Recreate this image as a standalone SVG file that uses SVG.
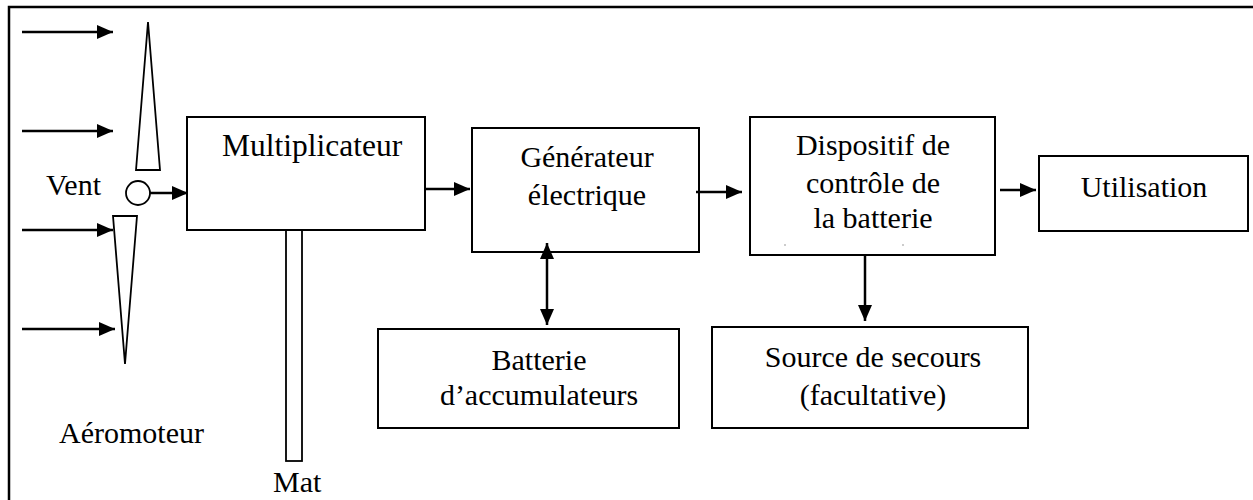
<svg xmlns="http://www.w3.org/2000/svg" width="1253" height="500" viewBox="0 0 1253 500">
<style>
.box{fill:#fff;stroke:#000;stroke-width:2}
.shape{fill:#fff;stroke:#000;stroke-width:1.8}
.ar{stroke:#000;stroke-width:2.5;fill:none}
</style>
<defs>
<marker id="ah" markerUnits="userSpaceOnUse" markerWidth="16" markerHeight="14" refX="16" refY="7" orient="auto">
<path d="M0,0 L16,7 L0,14 Z" fill="#000"/>
</marker>
<marker id="ahs" markerUnits="userSpaceOnUse" markerWidth="16" markerHeight="14" refX="16" refY="7" orient="auto-start-reverse">
<path d="M0,0 L16,7 L0,14 Z" fill="#000"/>
</marker>
</defs>
<rect width="1253" height="500" fill="#fff"/>
<path d="M9,500 V7 H1253" fill="none" stroke="#000" stroke-width="2.5"/>

<g id="aeromoteur">
<polygon class="shape" points="148,22 136,170 160,170"/>
<polygon class="shape" points="113,216 137,216 125,364"/>
<circle class="shape" cx="138" cy="193" r="12"/>
<text font-family="Tinos, Times New Roman, Liberation Serif, serif" font-size="30" x="46" y="195">Vent</text>
<text font-family="Tinos, Times New Roman, Liberation Serif, serif" font-size="30" x="59" y="443">Aéromoteur</text>
</g>

<g id="mat">
<rect class="shape" x="286" y="230" width="16" height="231"/>
<text font-family="Tinos, Times New Roman, Liberation Serif, serif" font-size="30" x="273" y="492">Mat</text>
</g>

<g id="multiplicateur">
<rect class="box" x="187" y="117" width="238" height="113"/>
<text font-family="Tinos, Times New Roman, Liberation Serif, serif" font-size="31.5" x="222" y="156">Multiplicateur</text>
</g>

<g id="generateur">
<rect class="box" x="472" y="128" width="227" height="124"/>
<text font-family="Tinos, Times New Roman, Liberation Serif, serif" font-size="30" text-anchor="middle" x="587" y="167">Générateur</text>
<text font-family="Tinos, Times New Roman, Liberation Serif, serif" font-size="30" text-anchor="middle" x="587" y="205">électrique</text>
</g>

<g id="dispositif">
<rect class="box" x="750" y="117" width="245" height="138"/>
<text font-family="Tinos, Times New Roman, Liberation Serif, serif" font-size="30" text-anchor="middle" x="873" y="155">Dispositif de</text>
<text font-family="Tinos, Times New Roman, Liberation Serif, serif" font-size="30" text-anchor="middle" x="873" y="193">contrôle de</text>
<text font-family="Tinos, Times New Roman, Liberation Serif, serif" font-size="30" text-anchor="middle" x="873" y="228">la batterie</text>
<line x1="784" y1="245" x2="786" y2="245" stroke="#999" stroke-width="1"/>
<line x1="902" y1="245" x2="904" y2="245" stroke="#999" stroke-width="1"/>
</g>

<g id="utilisation">
<rect class="box" x="1039" y="156" width="209" height="75"/>
<text font-family="Tinos, Times New Roman, Liberation Serif, serif" font-size="30" text-anchor="middle" x="1144" y="197">Utilisation</text>
</g>

<g id="batterie">
<rect class="box" x="378" y="329" width="301" height="99"/>
<text font-family="Tinos, Times New Roman, Liberation Serif, serif" font-size="30" text-anchor="middle" x="539" y="370">Batterie</text>
<text font-family="Tinos, Times New Roman, Liberation Serif, serif" font-size="30" text-anchor="middle" x="539" y="405">d’accumulateurs</text>
</g>

<g id="source">
<rect class="box" x="712" y="327" width="316" height="101"/>
<text font-family="Tinos, Times New Roman, Liberation Serif, serif" font-size="30" text-anchor="middle" x="873" y="367">Source de secours</text>
<text font-family="Tinos, Times New Roman, Liberation Serif, serif" font-size="30" text-anchor="middle" x="873" y="405">(facultative)</text>
</g>

<g id="connectors">
<line class="ar" x1="22" y1="32" x2="113" y2="32" marker-end="url(#ah)"/>
<line class="ar" x1="22" y1="131" x2="113" y2="131" marker-end="url(#ah)"/>
<line class="ar" x1="22" y1="230" x2="113" y2="230" marker-end="url(#ah)"/>
<line class="ar" x1="22" y1="329" x2="115" y2="329" marker-end="url(#ah)"/>
<line class="ar" x1="150" y1="193" x2="188" y2="193" marker-end="url(#ah)"/>
<line class="ar" x1="425" y1="189" x2="470" y2="189" marker-end="url(#ah)"/>
<line class="ar" x1="696" y1="192" x2="742" y2="192" marker-end="url(#ah)"/>
<line class="ar" x1="1000" y1="190" x2="1036" y2="190" marker-end="url(#ah)"/>
<line class="ar" x1="865" y1="255" x2="865" y2="321" marker-end="url(#ah)"/>
<line class="ar" x1="547" y1="243" x2="547" y2="325" marker-start="url(#ahs)" marker-end="url(#ahs)"/>
</g>
</svg>
